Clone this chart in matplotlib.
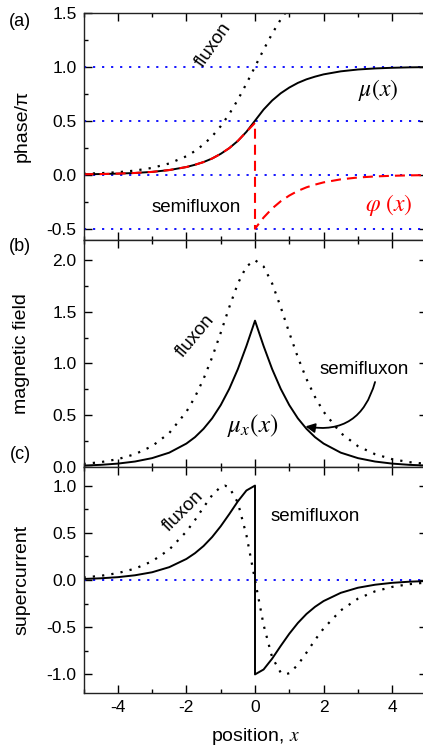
import matplotlib
matplotlib.use("Agg")
import matplotlib.pyplot as plt
from matplotlib.ticker import MultipleLocator, FormatStrFormatter

plt.rcParams['font.family'] = ['Liberation Sans', 'DejaVu Sans']
plt.rcParams['mathtext.fontset'] = 'stix'
plt.rcParams['axes.unicode_minus'] = False

# ---------------- data ----------------
x = [-5, -4.5, -4, -3.5, -3, -2.5, -2, -1.75, -1.5, -1.25, -1, -0.75, -0.5, -0.25, 0,
     0.25, 0.5, 0.75, 1, 1.25, 1.5, 1.75, 2, 2.5, 3, 3.5, 4, 4.5, 5]

# panel (a): phase / pi
fluxon_phase = [0.009, 0.014, 0.023, 0.038, 0.063, 0.104, 0.171, 0.219, 0.280, 0.355, 0.449, 0.562, 0.694, 0.843, 1.000,
                1.157, 1.306, 1.438, 1.551, 1.645, 1.720, 1.781, 1.829, 1.896, 1.937, 1.962, 1.977, 1.986, 1.991]
mu_phase = [0.004, 0.006, 0.010, 0.016, 0.026, 0.043, 0.071, 0.092, 0.117, 0.150, 0.193, 0.246, 0.313, 0.397, 0.500,
            0.603, 0.687, 0.754, 0.807, 0.850, 0.883, 0.908, 0.929, 0.957, 0.974, 0.984, 0.990, 0.994, 0.996]
x_jump = [-5, -4.5, -4, -3.5, -3, -2.5, -2, -1.75, -1.5, -1.25, -1, -0.75, -0.5, -0.25, 0, 0,
          0.25, 0.5, 0.75, 1, 1.25, 1.5, 1.75, 2, 2.5, 3, 3.5, 4, 4.5, 5]
phi_phase = [0.004, 0.006, 0.010, 0.016, 0.026, 0.043, 0.071, 0.092, 0.117, 0.150, 0.193, 0.246, 0.313, 0.397, 0.480, -0.500,
             -0.397, -0.313, -0.246, -0.193, -0.150, -0.117, -0.092, -0.071, -0.043, -0.026, -0.016, -0.010, -0.006, -0.004]
phase_refs = [1.0, 0.5, 0.0, -0.5]

# panel (b): magnetic field
fluxon_field = [0.027, 0.044, 0.073, 0.121, 0.199, 0.326, 0.532, 0.675, 0.850, 1.059, 1.296, 1.545, 1.774, 1.939, 2.000,
                1.939, 1.774, 1.545, 1.296, 1.059, 0.850, 0.675, 0.532, 0.326, 0.199, 0.121, 0.073, 0.044, 0.027]
semi_field = [0.011, 0.018, 0.030, 0.050, 0.083, 0.136, 0.224, 0.286, 0.367, 0.468, 0.596, 0.754, 0.945, 1.169, 1.414,
              1.169, 0.945, 0.754, 0.596, 0.468, 0.367, 0.286, 0.224, 0.136, 0.083, 0.050, 0.030, 0.018, 0.011]

# panel (c): supercurrent
x_fc = [-5, -4.5, -4, -3.5, -3, -2.5, -2, -1.75, -1.5, -1.25, -1, -0.88, -0.75, -0.5, -0.25, 0,
        0.25, 0.5, 0.75, 0.88, 1, 1.25, 1.5, 1.75, 2, 2.5, 3, 3.5, 4, 4.5, 5]
fluxon_current = [0.027, 0.044, 0.073, 0.120, 0.198, 0.322, 0.513, 0.635, 0.770, 0.898, 0.987, 1.000, 0.981, 0.820, 0.475, 0.000,
                  -0.475, -0.820, -0.981, -1.000, -0.987, -0.898, -0.770, -0.635, -0.513, -0.322, -0.198, -0.120, -0.073, -0.044, -0.027]
semi_current = [0.011, 0.018, 0.030, 0.050, 0.082, 0.136, 0.223, 0.284, 0.360, 0.455, 0.569, 0.698, 0.833, 0.948, 1.000, -1.000,
                -0.948, -0.833, -0.698, -0.569, -0.455, -0.360, -0.284, -0.223, -0.136, -0.082, -0.050, -0.030, -0.018, -0.011]
current_refs = [0.0]

xticks = [-4, -2, 0, 2, 4]

# ---------------- figure ----------------
W, H = 423, 749
fig = plt.figure(figsize=(W / 100, H / 100), dpi=100)

def fx(px):
    return px / W

def fy(py):
    return 1 - py / H

left = fx(83.5)
width = fx(426.5) - left
rows = [(12.7, 239.5), (239.5, 466.7), (466.7, 693.3)]
axes = []
for top, bot in rows:
    ax = fig.add_axes([left, fy(bot), width, fy(top) - fy(bot)])
    axes.append(ax)

dotted_k = dict(color='black', lw=1.6, ls=(0, (1, 3.2)))
dotted_b = dict(color='#0000ff', lw=1.3, ls=(0, (1.2, 3.8)))
solid_k = dict(color='black', lw=1.4)

TICK = 12.5
LAB = 14
ANN = 13.5

for ax in axes:
    ax.set_xlim(-5, 5)
    ax.xaxis.set_major_locator(MultipleLocator(2))
    ax.xaxis.set_minor_locator(MultipleLocator(1))
    ax.tick_params(which='both', direction='in', top=True, right=True,
                   labelsize=TICK, width=1, pad=5)
    ax.tick_params(which='major', length=6)
    ax.tick_params(which='minor', length=3)
    for s in ax.spines.values():
        s.set_linewidth(1.0)
        s.set_color('#222222')
    ax.yaxis.set_major_locator(MultipleLocator(0.5))
    ax.yaxis.set_minor_locator(MultipleLocator(0.25))
    ax.yaxis.set_major_formatter(FormatStrFormatter('%.1f'))
    ax.yaxis.set_label_coords(-0.155, 0.5)

# (a)
ax = axes[0]
for r in phase_refs:
    ax.axhline(r, **dotted_b)
ax.plot(x, fluxon_phase, **dotted_k)
ax.plot(x, mu_phase, **solid_k)
ax.plot(x_jump, phi_phase, color='#ff0000', lw=1.5, ls=(0, (4.8, 2.9)))
ax.set_ylim(-0.6, 1.5)
ax.set_ylabel('phase/π', fontsize=LAB)
ax.tick_params(labelbottom=False)
ax.text(-1.2, 1.2, 'fluxon', fontsize=ANN, rotation=55, ha='center', va='center')
ax.text(-1.7, -0.30, 'semifluxon', fontsize=ANN, ha='center', va='center')
ax.text(3.6, 0.78, r'$\mu(x)$', fontsize=17, ha='center', va='center')
ax.text(3.9, -0.28, r'$\varphi\ (x)$', fontsize=17, ha='center', va='center', color='#ff0000')

# (b)
ax = axes[1]
ax.plot(x, fluxon_field, **dotted_k)
ax.plot(x, semi_field, **solid_k)
ax.set_ylim(0, 2.2)
ax.set_ylabel('magnetic field', fontsize=LAB)
ax.tick_params(labelbottom=False)
ax.text(-1.75, 1.27, 'fluxon', fontsize=ANN, rotation=50, ha='center', va='center')
ax.text(3.17, 0.94, 'semifluxon', fontsize=ANN, ha='center', va='center')
ax.text(-0.08, 0.40, r'$\mu_x(x)$', fontsize=18, ha='center', va='center')
ax.annotate('', xy=(1.47, 0.39), xytext=(3.5, 0.82),
            arrowprops=dict(arrowstyle='-|>', color='black', lw=1.3,
                            connectionstyle='arc3,rad=-0.45',
                            mutation_scale=14, shrinkA=0, shrinkB=0))

# (c)
ax = axes[2]
for r in current_refs:
    ax.axhline(r, **dotted_b)
ax.plot(x_fc, fluxon_current, **dotted_k)
ax.plot(x_jump, semi_current, **solid_k)
ax.set_ylim(-1.2, 1.2)
ax.set_xticks(xticks)
ax.set_ylabel('supercurrent', fontsize=LAB)
ax.set_xlabel(r'position, $x$', fontsize=LAB, labelpad=8)
ax.text(-2.08, 0.73, 'fluxon', fontsize=ANN, rotation=45, ha='center', va='center')
ax.text(1.75, 0.67, 'semifluxon', fontsize=ANN, ha='center', va='center')

# panel labels
for lab, py in [('(a)', 22), ('(b)', 247), ('(c)', 455)]:
    fig.text(fx(20), fy(py), lab, fontsize=13, ha='center', va='center')

fig.savefig('out.png', dpi=100)
